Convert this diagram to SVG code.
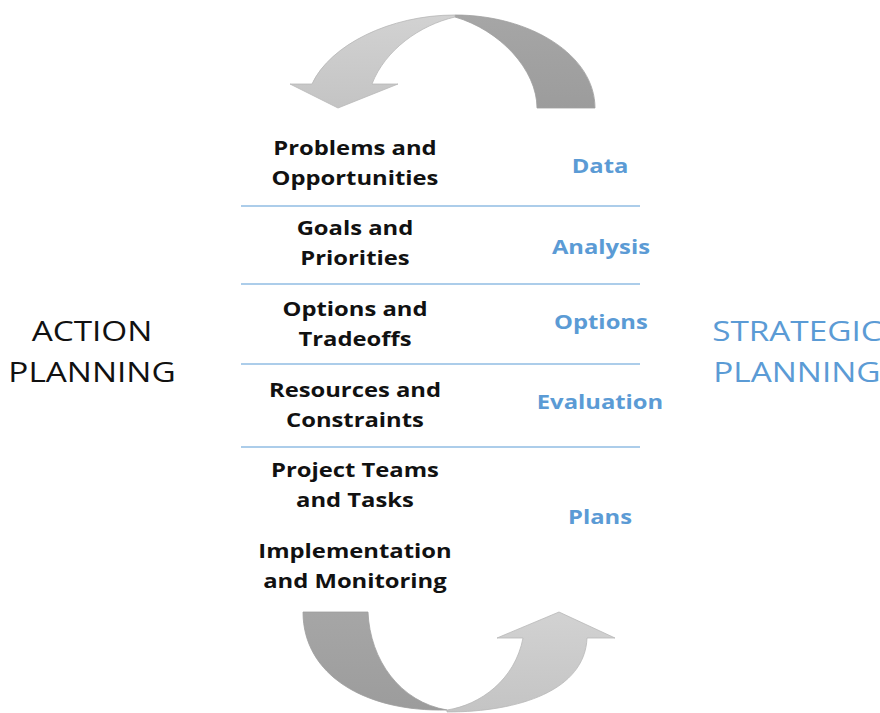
<svg xmlns="http://www.w3.org/2000/svg" width="880" height="713" viewBox="0 0 880 713">
<defs>
<linearGradient id="lt" x1="0" y1="0" x2="0" y2="1"><stop offset="0" stop-color="#d2d2d2"/><stop offset="1" stop-color="#c4c4c4"/></linearGradient>
<linearGradient id="dk" x1="0" y1="0" x2="0" y2="1"><stop offset="0" stop-color="#a6a6a6"/><stop offset="1" stop-color="#9c9c9c"/></linearGradient>
</defs>
<style>
.item{font-family:"Open Sans","Liberation Sans",sans-serif;font-weight:bold;font-size:20px;fill:#111;text-anchor:middle}
.lbl{font-family:"Open Sans","Liberation Sans",sans-serif;font-weight:bold;font-size:20px;fill:#5b9bd5;text-anchor:middle}
.side{font-family:"Open Sans","Liberation Sans",sans-serif;font-size:28px;text-anchor:middle}
.sep{stroke:#5b9bd5;stroke-width:1.2}
.dark{fill:url(#dk);stroke:#a0a0a0;stroke-width:0.8}
.light{fill:url(#lt);stroke:#b8b8b8;stroke-width:0.8}
</style>
<g id="top-arrow">
<path class="dark" d="M455,15 C530,15 595,55 595,108 L537,108 C537,70 500,30 455,17 Z"/>
<path class="light" d="M455,15 C390,15 330,45 312,84 L290,84 L338,108 L398,84 L372,84 C385,50 420,25 455,17 Z"/>
</g>
<g id="bottom-arrow">
<path class="dark" d="M303,612 L368,612 C370,660 400,702 447,710 C365,712 303,675 303,612 Z"/>
<path class="light" d="M447,712 C520,712 585,690 587,638 L615,638 L559,612 L497,638 L523,638 C515,680 480,705 447,710 Z"/>
</g>
<g id="separators">
<line class="sep" x1="241" y1="206" x2="640" y2="206"/>
<line class="sep" x1="241" y1="284" x2="640" y2="284"/>
<line class="sep" x1="241" y1="364" x2="640" y2="364"/>
<line class="sep" x1="241" y1="447" x2="640" y2="447"/>
</g>
<g transform="scale(1.19,1)">
<g id="action-planning"><text class="side" fill="#111"><tspan x="77.3" y="341">ACTION</tspan><tspan x="77.3" y="382">PLANNING</tspan></text></g>
<g id="strategic-planning"><text class="side" fill="#5b9bd5"><tspan x="669.7" y="341">STRATEGIC</tspan><tspan x="669.7" y="382">PLANNING</tspan></text></g>
<g id="n1"><text class="item"><tspan x="298.3" y="155">Problems and</tspan><tspan x="298.3" y="185">Opportunities</tspan></text><text class="lbl" x="504.2" y="173">Data</text></g>
<g id="n2"><text class="item"><tspan x="298.3" y="235">Goals and</tspan><tspan x="298.3" y="265">Priorities</tspan></text><text class="lbl" x="505" y="254">Analysis</text></g>
<g id="n3"><text class="item"><tspan x="298.3" y="316">Options and</tspan><tspan x="298.3" y="346">Tradeoffs</tspan></text><text class="lbl" x="505" y="329">Options</text></g>
<g id="n4"><text class="item"><tspan x="298.3" y="397">Resources and</tspan><tspan x="298.3" y="427">Constraints</tspan></text><text class="lbl" x="504.2" y="409">Evaluation</text></g>
<g id="n5"><text class="item"><tspan x="298.3" y="477">Project Teams</tspan><tspan x="298.3" y="507">and Tasks</tspan></text><text class="lbl" x="504.2" y="524">Plans</text></g>
<g id="n6"><text class="item"><tspan x="298.3" y="558">Implementation</tspan><tspan x="298.3" y="588">and Monitoring</tspan></text></g>
</g>
</svg>
